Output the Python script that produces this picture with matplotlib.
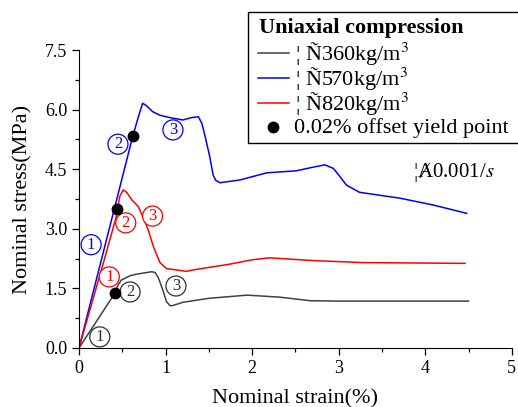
import matplotlib
matplotlib.use("Agg")
import matplotlib.pyplot as plt
from matplotlib.ticker import MultipleLocator
from matplotlib.lines import Line2D
from matplotlib.patches import Rectangle

plt.rcParams['font.family'] = ['Liberation Serif', 'DejaVu Serif']
plt.rcParams['mathtext.fontset'] = 'stix'

# -----------------------------
# Stress-strain data
# -----------------------------
strain_360 = [0, 0.415, 0.45, 0.49, 0.59, 0.67, 0.84, 0.88, 0.92, 0.97, 1.01, 1.05, 1.07,
              1.2, 1.5, 1.94, 2.32, 2.67, 3.0, 4.5]
stress_360 = [0, 1.38, 1.58, 1.71, 1.82, 1.86, 1.92, 1.9, 1.75, 1.45, 1.17, 1.07, 1.06,
              1.15, 1.25, 1.33, 1.28, 1.19, 1.18, 1.18]

strain_570 = [0, 0.62, 0.69, 0.735, 0.78, 0.85, 0.935, 1.05, 1.2, 1.3, 1.38, 1.42, 1.46,
              1.51, 1.55, 1.58, 1.63, 1.86, 2.17, 2.51, 2.7, 2.84, 2.94, 3.02, 3.09, 3.24,
              3.71, 4.09, 4.48]
stress_570 = [0, 5.32, 5.85, 6.16, 6.1, 5.95, 5.86, 5.8, 5.74, 5.8, 5.82, 5.65, 5.3,
              4.82, 4.35, 4.22, 4.16, 4.23, 4.41, 4.46, 4.55, 4.61, 4.52, 4.3, 4.10, 3.92,
              3.77, 3.6, 3.39]

strain_820 = [0, 0.28, 0.43, 0.47, 0.51, 0.55, 0.61, 0.685, 0.75, 0.80, 0.86, 0.935, 1.01,
              1.24, 1.36, 1.74, 2.0, 2.2, 2.71, 3.28, 4.46]
stress_820 = [0, 2.13, 3.3, 3.81, 3.98, 3.92, 3.73, 3.56, 3.25, 2.97, 2.55, 2.15, 2.0,
              1.93, 1.98, 2.11, 2.22, 2.27, 2.20, 2.15, 2.13]

# 0.02% offset yield points
yield_strain = [0.415, 0.435, 0.62]
yield_stress = [1.38, 3.5, 5.34]

# stage labels (x, y, text, colour)
stage_x = [0.24, 0.59, 1.12, 0.35, 0.54, 0.85, 0.14, 0.45, 1.085]
stage_y = [0.28, 1.41, 1.56, 1.79, 3.15, 3.32, 2.6, 5.13, 5.49]
stage_txt = ["1", "2", "3", "1", "2", "3", "1", "2", "3"]
stage_col = ["#303030"] * 3 + ["red"] * 3 + ["blue"] * 3

labels = ["¦ Ñ360kg/m$^3$", "¦ Ñ570kg/m$^3$", "¦ Ñ820kg/m$^3$"]
colors = ["#404040", "blue", "red"]

W, H = 518, 407


def fx(px):
    return px / W


def fy(py):
    return 1 - py / H


fig = plt.figure(figsize=(W / 100, H / 100), dpi=100)
ax = fig.add_axes([0.1525, 0.145, 0.8355, 0.732])

for xs, ys, c in zip([strain_360, strain_570, strain_820],
                     [stress_360, stress_570, stress_820], colors):
    ax.plot(xs, ys, color=c, lw=1.1)

ax.plot(yield_strain, yield_stress, "o", color="black", ms=7.5, zorder=5)

for x, y, t, c in zip(stage_x, stage_y, stage_txt, stage_col):
    ax.text(x, y, t, color=c, fontsize=12, ha="center", va="center",
            bbox=dict(boxstyle="circle,pad=0.12", fc="white", ec=c, lw=0.9))

ax.text(3.86, 4.43, "¦Ⱥ0.001/$s$", fontsize=15, ha="left", va="center")

ax.set_xlim(0, 5)
ax.set_ylim(0, 7.5)
ax.xaxis.set_major_locator(MultipleLocator(1))
ax.xaxis.set_minor_locator(MultipleLocator(0.5))
ax.yaxis.set_major_locator(MultipleLocator(1.5))
ax.yaxis.set_minor_locator(MultipleLocator(0.75))
ax.set_yticklabels([f"{v:.1f}" for v in ax.get_yticks()])
ax.tick_params(which="both", direction="out", labelsize=13, width=0.9)
ax.tick_params(which="major", length=5)
ax.tick_params(which="minor", length=3)
ax.spines["top"].set_visible(False)
ax.spines["right"].set_visible(False)
ax.set_xlabel("Nominal strain(%)", fontsize=16, labelpad=9)
ax.set_ylabel("Nominal stress(MPa)", fontsize=16, labelpad=9)

# -----------------------------
# Legend box, laid out by hand (runs off the right edge)
# -----------------------------
tf = fig.transFigure
ax.add_patch(Rectangle((fx(248), fy(143)), 0.6, 131 / H, transform=tf,
                       fc="white", ec="black", lw=1.0, zorder=6, clip_on=False))
ax.text(fx(259), fy(33), "Uniaxial compression", transform=tf, fontsize=16,
        fontweight="bold", va="baseline", zorder=7)

row_line_y = [53, 78, 103]
row_text_y = [60, 85, 110]
for c, lab, ly, ty in zip(colors, labels, row_line_y, row_text_y):
    ax.add_line(Line2D([fx(258), fx(289)], [fy(ly), fy(ly)], transform=tf,
                       color=c, lw=1.1, zorder=7, clip_on=False))
    ax.text(fx(295), fy(ty), lab, transform=tf, fontsize=16, va="baseline", zorder=7)

ax.add_line(Line2D([fx(273)], [fy(127)], transform=tf, marker="o", ls="none",
                   color="black", ms=7.5, zorder=7, clip_on=False))
ax.text(fx(294), fy(133), "0.02% offset yield point", transform=tf, fontsize=16,
        va="baseline", zorder=7)

fig.savefig("out.png", dpi=100)
